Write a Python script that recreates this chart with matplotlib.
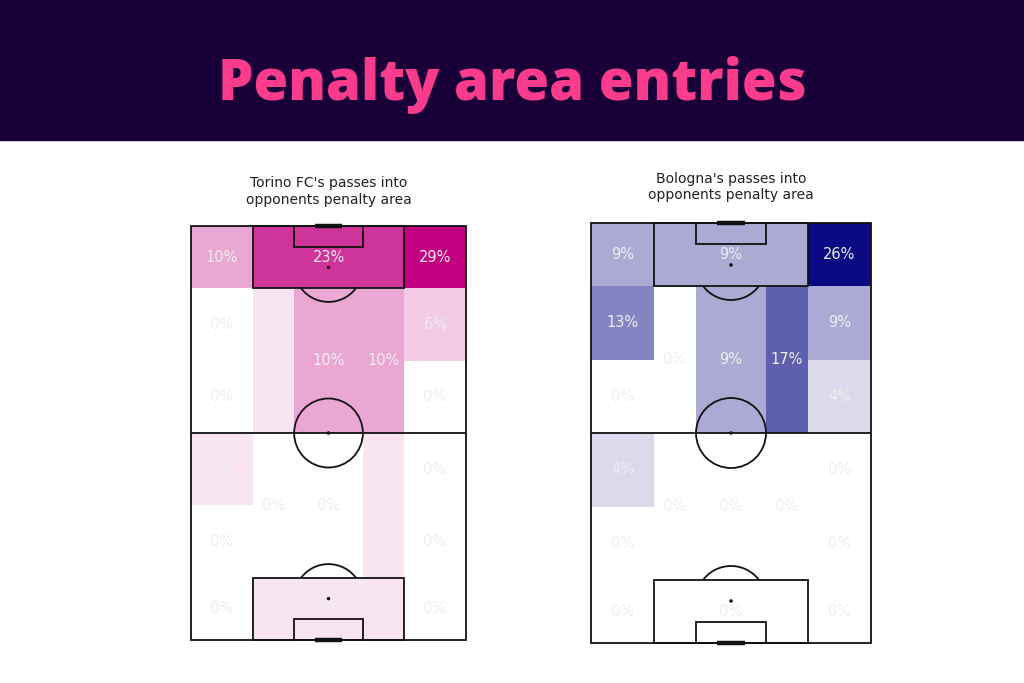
import matplotlib
matplotlib.use("Agg")
import matplotlib.pyplot as plt
from matplotlib.patches import Rectangle, Circle, Arc
from matplotlib.colors import LinearSegmentedColormap
import numpy as np

# ---------------- data (percent of passes into penalty area, by zone) ----------------
# top row (attacking penalty-area level): left wing, box, right wing
torino_top = [10, 23, 29]
# wings in attacking half: [upper, lower]
torino_left_wing_att = [0, 0]
torino_right_wing_att = [6, 0]
# inner lanes attacking half: left half-space, centre, right half-space
torino_inner_att = [3, 10, 10]
torino_inner_def = [0, 0, 3]
# wings in own half: [upper, lower]
torino_left_wing_def = [3, 0]
torino_right_wing_def = [0, 0]
torino_bottom = [0, 3, 0]

bologna_top = [9, 9, 26]
bologna_left_wing_att = [13, 0]
bologna_right_wing_att = [9, 4]
bologna_inner_att = [0, 9, 17]
bologna_inner_def = [0, 0, 0]
bologna_left_wing_def = [4, 0]
bologna_right_wing_def = [0, 0]
bologna_bottom = [0, 0, 0]

titles = ["Torino FC's passes into\nopponents penalty area",
          "Bologna's passes into\nopponents penalty area"]

# ---------------- pitch geometry (StatsBomb 120 x 80) ----------------
W, L = 80.0, 120.0
xs = [0, 18, 30, 50, 62, 80]      # lane edges
BOX, HALF, SIX = 18.0, 60.0, 6.0


def zones(top, lw_att, rw_att, inner_att, inner_def, lw_def, rw_def, bottom):
    """Return list of (x0, y0, w, h, value)."""
    z = []
    z.append((xs[0], L - BOX, xs[1] - xs[0], BOX, top[0]))
    z.append((xs[1], L - BOX, xs[4] - xs[1], BOX, top[1]))
    z.append((xs[4], L - BOX, xs[5] - xs[4], BOX, top[2]))
    z.append((xs[0], 0, xs[1] - xs[0], BOX, bottom[0]))
    z.append((xs[1], 0, xs[4] - xs[1], BOX, bottom[1]))
    z.append((xs[4], 0, xs[5] - xs[4], BOX, bottom[2]))
    q_att = (L - BOX + HALF) / 2
    q_def = (BOX + HALF) / 2
    z.append((xs[0], q_att, xs[1], L - BOX - q_att, lw_att[0]))
    z.append((xs[0], HALF, xs[1], q_att - HALF, lw_att[1]))
    z.append((xs[4], q_att, xs[5] - xs[4], L - BOX - q_att, rw_att[0]))
    z.append((xs[4], HALF, xs[5] - xs[4], q_att - HALF, rw_att[1]))
    z.append((xs[0], q_def, xs[1], HALF - q_def, lw_def[0]))
    z.append((xs[0], BOX, xs[1], q_def - BOX, lw_def[1]))
    z.append((xs[4], q_def, xs[5] - xs[4], HALF - q_def, rw_def[0]))
    z.append((xs[4], BOX, xs[5] - xs[4], q_def - BOX, rw_def[1]))
    for i in range(3):
        z.append((xs[i + 1], HALF, xs[i + 2] - xs[i + 1], L - BOX - HALF, inner_att[i]))
        z.append((xs[i + 1], BOX, xs[i + 2] - xs[i + 1], HALF - BOX, inner_def[i]))
    return z


def draw_pitch(ax):
    lc, lw = "#111111", 1.3
    kw = dict(fill=False, ec=lc, lw=lw, zorder=3, clip_on=False)
    ax.add_patch(Rectangle((0, 0), W, L, **kw))
    ax.plot([0, W], [HALF, HALF], color=lc, lw=lw, zorder=3)
    ax.add_patch(Circle((W / 2, HALF), 10, **kw))
    ax.add_patch(Circle((W / 2, HALF), 0.3, color=lc, zorder=3))
    ang = np.degrees(np.arccos(6 / 10))
    for y0, sgn in [(0, 1), (L, -1)]:
        ax.add_patch(Rectangle((xs[1], y0 if sgn > 0 else y0 - BOX), xs[4] - xs[1], BOX, **kw))
        ax.add_patch(Rectangle((xs[2], y0 if sgn > 0 else y0 - SIX), xs[3] - xs[2], SIX, **kw))
        spot = y0 + sgn * 12
        ax.add_patch(Circle((W / 2, spot), 0.3, color=lc, zorder=3))
        if sgn > 0:
            ax.add_patch(Arc((W / 2, spot), 20, 20, theta1=90 - ang, theta2=90 + ang,
                             ec=lc, lw=lw, zorder=3))
        else:
            ax.add_patch(Arc((W / 2, spot), 20, 20, theta1=270 - ang, theta2=270 + ang,
                             ec=lc, lw=lw, zorder=3))
        ax.plot([W / 2 - 4, W / 2 + 4], [y0, y0], color=lc, lw=3.2,
                zorder=4, solid_capstyle="butt", clip_on=False)


fig = plt.figure(figsize=(10.24, 6.83), dpi=100)
fig.patch.set_facecolor("white")
fig.patches.append(Rectangle((0, 1 - 140 / 683), 1, 140 / 683, transform=fig.transFigure,
                             color="#1a0038", zorder=0))
fig.text(0.5, 1 - 85 / 683, "Penalty area entries", ha="center", va="center",
         color="#fb3c8c", fontsize=40.5, fontweight="heavy", family="Open Sans")

cmaps = [LinearSegmentedColormap.from_list("tor", ["#ffffff", "#c2007f"]),
         LinearSegmentedColormap.from_list("bol", ["#ffffff", "#0a0a85"])]
datasets = [
    zones(torino_top, torino_left_wing_att, torino_right_wing_att, torino_inner_att,
          torino_inner_def, torino_left_wing_def, torino_right_wing_def, torino_bottom),
    zones(bologna_top, bologna_left_wing_att, bologna_right_wing_att, bologna_inner_att,
          bologna_inner_def, bologna_left_wing_def, bologna_right_wing_def, bologna_bottom),
]
boxes = [(191, 466, 226, 640), (591, 871, 223, 643)]
sub_y = [191.5, 187]

for k in range(2):
    x0, x1, yt, yb = boxes[k]
    ax = fig.add_axes([x0 / 1024, 1 - yb / 683, (x1 - x0) / 1024, (yb - yt) / 683])
    ax.set_xlim(0, W)
    ax.set_ylim(0, L)
    ax.axis("off")
    z = datasets[k]
    vmax = max(v for *_, v in z)
    for (bx, by, bw, bh, v) in z:
        ax.add_patch(Rectangle((bx, by), bw, bh, color=cmaps[k](v / vmax), lw=0, zorder=1))
        ax.text(bx + bw / 2, by + bh / 2, f"{int(v)}%", ha="center", va="center",
                color="#eeeeee", fontsize=10.5, zorder=5, family="DejaVu Sans")
    draw_pitch(ax)
    fig.text((x0 + x1) / 2 / 1024, 1 - sub_y[k] / 683, titles[k], ha="center", va="center",
             fontsize=10, color="#222222", linespacing=1.2, family="DejaVu Sans")

fig.savefig("out.png", dpi=100)
